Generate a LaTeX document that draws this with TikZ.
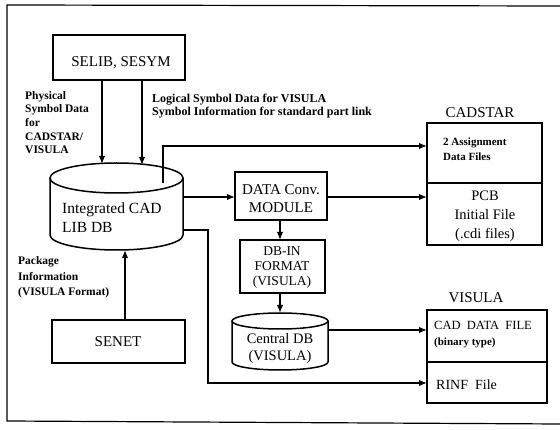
\documentclass[tikz,border=0pt]{standalone}
\usepackage{fontspec}
\setmainfont{Liberation Serif}
\usetikzlibrary{arrows.meta}
\begin{document}
\begin{tikzpicture}[x=1pt,y=-1pt,
  box/.style={draw, line width=1.5pt, inner sep=0pt, outer sep=0pt},
  cylline/.style={line width=1.5pt},
  frameline/.style={line width=1.2pt},
  conn/.style={line width=1.5pt, -{Latex[length=8pt,width=6.5pt]}},
  bigtext/.style={font=\fontsize{15}{17.5}\selectfont, inner sep=0pt},
  midtext/.style={font=\fontsize{13.5}{15.5}\selectfont, inner sep=0pt},
  smalltext/.style={font=\bfseries\fontsize{11.5}{13.7}\selectfont, inner sep=0pt}
]
\useasboundingbox (0,0) rectangle (560,430);
\fill[white] (0,0) rectangle (560,430);
% frame
\draw[frameline] (560,6) -- (7,5) -- (7,421) -- (560,424);

% boxes
\node[box, minimum width=132, minimum height=45] (selib) at (119,57.5) {};
\node[bigtext] (selibt) at (121,63) {SELIB, SESYM};
\node[box, minimum width=133, minimum height=43] (senet) at (118.5,341.5) {};
\node[bigtext] (senett) at (118,342) {SENET};
\node[box, minimum width=92, minimum height=48] (conv) at (281,196) {};
\node[bigtext, align=center] (convt) at (281,198.5) {DATA Conv.\\MODULE};
\node[box, minimum width=85, minimum height=53] (dbin) at (282.5,266.5) {};
\node[midtext, align=center, font=\fontsize{13.5}{15}\selectfont] (dbint) at (282,268) {DB-IN\\FORMAT\\(VISULA)};

\node[box, minimum width=115, minimum height=60] (cad1) at (484.5,153) {};
\node[box, minimum width=115, minimum height=62] (cad2) at (484.5,214) {};
\node[bigtext] (cadstar) at (480,113) {CADSTAR};
\node[smalltext, align=left, anchor=west, font=\bfseries\fontsize{11}{15.5}\selectfont] (cad1t) at (443,149) {2 Assignment\\Data Files};
\node[bigtext, align=center, font=\fontsize{14.5}{19}\selectfont] (cad2t) at (485,216) {PCB\\Initial File\\(.cdi files)};

\node[box, minimum width=120, minimum height=52] (vis1) at (487,336) {};
\node[box, minimum width=120, minimum height=41] (vis2) at (487,382.5) {};
\node[bigtext] (visula) at (476,298) {VISULA};
\node[anchor=west, inner sep=0pt, align=left, font=\fontsize{12.5}{16}\selectfont] (vis1t) at (434,335) {CAD\ \ DATA\ \ FILE\\{\bfseries\fontsize{11}{13}\selectfont(binary type)}};
\node[bigtext, anchor=west, font=\fontsize{14}{16}\selectfont] (vis2t) at (436,385) {RINF\ \ File};

% Integrated CAD LIB DB cylinder
\node[minimum width=133, minimum height=87, inner sep=0pt, outer sep=0pt] (icad) at (116.5,206.5) {};
\draw[cylline] (50,178) -- (50,235) arc[start angle=180, end angle=0, x radius=66.5, y radius=15] -- (183,178);
\draw[cylline] (116.5,178) ellipse[x radius=66.5, y radius=15];
\node[bigtext, align=left, anchor=west, font=\fontsize{15.5}{18.5}\selectfont] (icadt) at (62,217.5) {Integrated CAD\\LIB DB};

% Central DB cylinder
\node[minimum width=96, minimum height=57, inner sep=0pt, outer sep=0pt] (cdb) at (280,341.5) {};
\draw[cylline] (232,321) -- (232,362) arc[start angle=180, end angle=0, x radius=48, y radius=8] -- (328,321);
\draw[cylline] (280,321) ellipse[x radius=48, y radius=8];
\node[bigtext, align=center, font=\fontsize{14.5}{17}\selectfont] (cdbt) at (280,348.5) {Central DB\\(VISULA)};

% labels
\node[smalltext, align=left, anchor=west] (physl) at (25,122.5) {Physical\\Symbol Data\\for\\CADSTAR/\\VISULA};
\node[smalltext, align=left, anchor=west, font=\bfseries\fontsize{12}{13}\selectfont] (logl) at (152,106.5) {Logical Symbol Data for VISULA\\Symbol Information for standard part link};
\node[smalltext, align=left, anchor=west, font=\bfseries\fontsize{11.5}{15.5}\selectfont] (pkgl) at (18,277.5) {Package\\Information\\(VISULA Format)};

% coordinates
\coordinate (a1) at (102,164);
\coordinate (a2) at (142,165);
\coordinate (b0) at (163,183);
\coordinate (b1) at (163,146);
\coordinate (c0) at (183,197);
\coordinate (d0) at (183,230);
\coordinate (d1) at (208,230);
\coordinate (d2) at (208,383);
\coordinate (e0) at (125,250);
\coordinate (f0) at (328,330);
\coordinate (g0) at (280,313);

% connectors
\draw[conn] (selib.south -| a1) -- (a1);
\draw[conn] (selib.south -| a2) -- (a2);
\draw[conn] (b0) -- (b1) -- (b1 -| cad1.west);
\draw[conn] (c0) -- (c0 -| conv.west);
\draw[conn] (conv.east |- c0) -- (c0 -| cad2.west);
\draw[conn] (conv.south -| g0) -- (dbin.north -| g0);
\draw[conn] (dbin.south -| g0) -- (g0);
\draw[conn] (f0) -- (f0 -| vis1.west);
\draw[conn] (d0) -- (d1) -- (d2) -- (d2 -| vis2.west);
\draw[conn] (senet.north -| e0) -- (e0);
\end{tikzpicture}
\end{document}
